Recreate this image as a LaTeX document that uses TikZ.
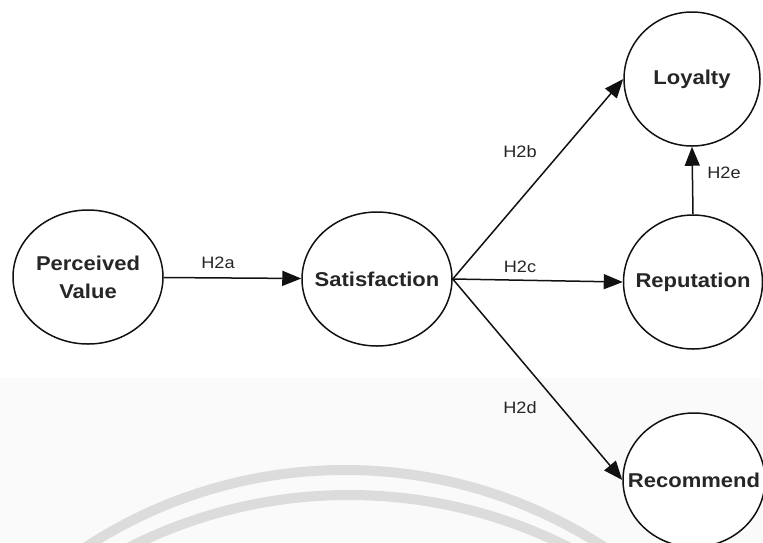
\documentclass[tikz,border=0pt]{standalone}
\usepackage{fontspec}
\setmainfont[FakeStretch=1.1]{Liberation Sans}
\usetikzlibrary{shapes.geometric,arrows.meta}
\definecolor{inkline}{HTML}{111111}
\definecolor{inktext}{HTML}{262626}
\definecolor{markgray}{HTML}{DCDCDC}
\definecolor{lowband}{HTML}{FAFAFA}
\tikzset{
  construct/.style={ellipse, draw=inkline, line width=1.5pt, fill=white,
    minimum width=150pt, minimum height=134pt, inner sep=0pt},
  every label/.style={align=center, text=inktext, inner sep=0pt,
    font=\fontsize{20}{28}\selectfont\bfseries},
  path/.style={draw=inkline, line width=1.5pt,
    -{Triangle[length=19pt,width=15pt]}},
  hyp/.style={text=inktext, font=\fontsize{16.5}{18}\selectfont, inner sep=0pt}
}
\begin{document}
\begin{tikzpicture}[x=1pt,y=-1pt]
  \clip (0,0) rectangle (763,542);
  \useasboundingbox (0,0) rectangle (763,542);
  % page ground and faint lower band
  \fill[white] (0,0) rectangle (763,542);
  \fill[lowband] (0,378) rectangle (763,542);
  % light grey arcs in the lower area
  \draw[markgray, line width=10pt] (345,944) circle[radius=474];
  \draw[markgray, line width=10pt] (349,982) circle[radius=487];

  % constructs (ellipse outlines with centred captions)
  \node[construct, label={center:Perceived\\Value}] (pv) at (88,277) {};
  \node[construct, label={center:Satisfaction}] (sat) at (377,279) {};
  \node[construct, minimum width=136pt, label={center:Loyalty}] (loy) at (692,79) {};
  \node[construct, minimum width=139pt, label={center:Reputation}] (rep) at (693,282) {};
  \node[construct, minimum width=142pt, label={center:Recommend}] (rec) at (694,480) {};

  % hypothesised paths
  \draw[path] (pv) -- (sat);
  \draw[path] (sat.east) -- (loy.west);
  \draw[path] (sat.east) -- (rep.west);
  \draw[path] (sat.east) -- (rec.west);
  \draw[path] (rep.north) -- (loy.south);

  % path labels
  \node[hyp] (la) at (218,263) {H2a};
  \node[hyp] (lb) at (520,152) {H2b};
  \node[hyp] (lc) at (520,267) {H2c};
  \node[hyp] (ld) at (520,408) {H2d};
  \node[hyp] (le) at (724,173) {H2e};
\end{tikzpicture}
\end{document}
